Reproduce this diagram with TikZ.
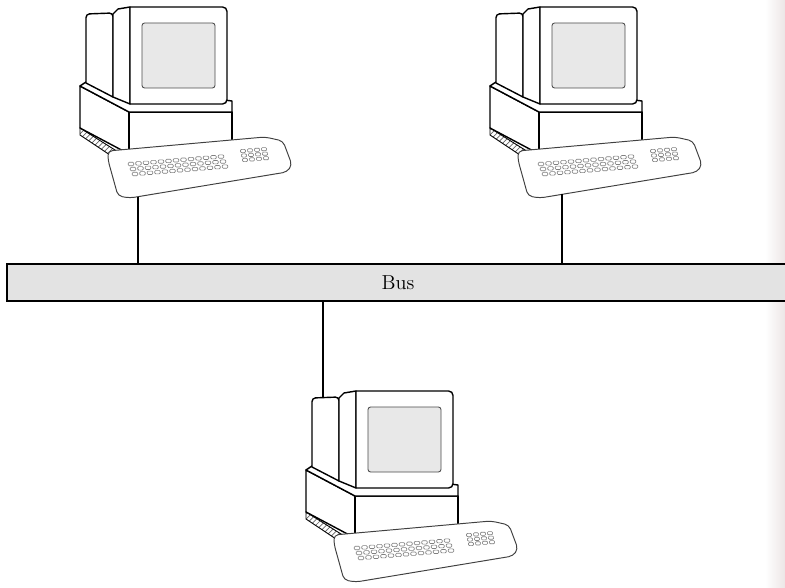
\documentclass[tikz,border=0pt]{standalone}
\usetikzlibrary{patterns}
\definecolor{scanedge}{RGB}{236,230,230}
\tikzset{
  x=0.02cm, y=-0.02cm,
  unit/.style={draw=black, line width=0.8pt, fill=white, line join=round},
  screen/.style={draw=black!70, line width=0.5pt, fill=gray!18, rounded corners=1.5pt},
  kbd/.style={draw=black!75, line width=0.55pt, fill=white, rounded corners=2.5pt, line join=round},
  keycap/.style={draw=black!50, line width=0.35pt, rounded corners=0.6pt},
  vent/.style={draw=black, line width=0.5pt, pattern=north east lines, pattern color=black!60},
  wire/.style={draw=black, line width=0.6pt},
  bus/.style={draw=black, line width=1pt, fill=gray!22, inner sep=0pt,
    minimum width=15.64cm, minimum height=0.74cm, font=\fontsize{11.5}{13}\selectfont},
  pics/computer/.style={code={
    % system unit: left side, vent strip, front and top
    \draw[unit] (80,86) -- (129,112) -- (129,154) -- (80,128) -- cycle;
    \draw[vent] (80,128) -- (123,155) -- (116,159) -- (80,135) -- cycle;
    \draw[unit] (129,112) rectangle (232,154);
    \draw[unit] (80,86) -- (86,82) -- (232,101) -- (232,112) -- (129,112) -- cycle;
    % monitor: housing behind the bezel
    \draw[unit] (113,97) -- (86,83) -- (86,17) [rounded corners=2pt] -- (86,14) -- (113,13) [sharp corners] -- cycle;
    % bezel side and front
    \draw[unit] (113,97) -- (113,14) -- (118,9) -- (130,7) -- (130,104) -- cycle;
    \draw[unit] (130,104) -- (130,7) [rounded corners=2.5pt] -- (227,7) -- (227,104) [sharp corners] -- cycle;
    \draw[screen] (142,23) rectangle (215,88);
    % keyboard
    \draw[kbd] (108,151) -- (265,137) -- (283,141) -- (292,165) -- (287,172) -- (130,198) -- (118,196) -- (108,160) -- cycle;
    \foreach \r in {0,1,2}{
      \foreach \c in {0,...,12}{
        \draw[keycap] ({131+\c*7.5+\r*2-2.8},{164+\r*5-\c*0.62-1.7}) rectangle ({131+\c*7.5+\r*2+2.8},{164+\r*5-\c*0.62+1.7});
      }
      \foreach \c in {0,...,3}{
        \draw[keycap] ({243+\c*7+\r*1-2.6},{151+\r*4.5-\c*0.6-1.6}) rectangle ({243+\c*7+\r*1+2.6},{151+\r*4.5-\c*0.6+1.6});
      }
    }
    % cable attachment points
    \coordinate (-kbA) at (138,196.6);
    \coordinate (-kbB) at (152,194.3);
    \coordinate (-top) at (97,13.5);
  }}
}
\begin{document}
\begin{tikzpicture}
  \useasboundingbox (0,0) rectangle (785,588);
  \clip (0,0) rectangle (785,588);
  \fill[white] (0,0) rectangle (785,588);
  \shade[left color=white, right color=scanedge] (765,0) rectangle (785,588);

  \node[bus] (bus) at (398,282.5) {Bus};

  \pic (c1) at (0,0) {computer};
  \pic (c2) at (410,0) {computer};
  \pic (c3) at (226,384) {computer};

  \draw[wire] (c1-kbA) -- (c1-kbA |- bus.north);
  \draw[wire] (c2-kbB) -- (c2-kbB |- bus.north);
  \draw[wire] (bus.south -| c3-top) -- (c3-top);
\end{tikzpicture}
\end{document}
